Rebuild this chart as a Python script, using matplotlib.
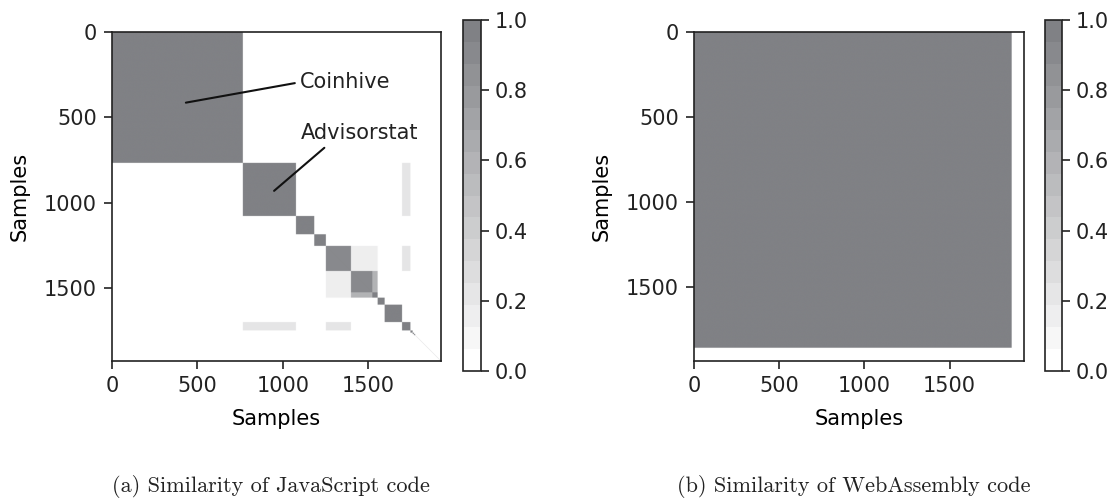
import numpy as np
import matplotlib
matplotlib.use('Agg')
import matplotlib.pyplot as plt
from matplotlib.colors import LinearSegmentedColormap, ListedColormap

# data
js_size = 1926
# diagonal blocks: (start, end, similarity)
js_blocks = [(0, 766, 1.0), (766, 1077, 1.0), (1077, 1184, 1.0), (1184, 1252, 1.0),
             (1252, 1399, 0.92), (1399, 1555, 0.6), (1399, 1524, 0.92), (1524, 1555, 0.95),
             (1555, 1596, 1.0), (1596, 1698, 1.0), (1698, 1747, 1.0),
             (1747, 1760, 1.0), (1760, 1768, 1.0), (1768, 1775, 1.0)]
# off-diagonal patches: (row start, row end, col start, col end, similarity)
js_patches = [(1184, 1252, 1184, 1399, 0.04),
              (1184, 1399, 1399, 1530, 0.05),
              (1252, 1399, 1399, 1596, 0.13),
              (766, 1077, 1698, 1747, 0.2),
              (1252, 1399, 1698, 1747, 0.22),
              (1555, 1596, 1184, 1399, 0.04),
              (1800, 1926, 1800, 1926, 0.05)]

wasm_size = 1938
wasm_valid = 1860
wasm_value = 1.0

tick_values = [0, 500, 1000, 1500]
cbar_ticks = [0.0, 0.2, 0.4, 0.6, 0.8, 1.0]
captions = ['(a) Similarity of JavaScript code', '(b) Similarity of WebAssembly code']

# build matrices
js = np.zeros((js_size, js_size))
for r0, r1, c0, c1, v in js_patches:
    js[r0:r1, c0:c1] = v
    js[c0:c1, r0:r1] = v
for s, e, v in js_blocks:
    js[s:e, s:e] = v
np.fill_diagonal(js, 1.0)

wasm = np.zeros((wasm_size, wasm_size))
wasm[:wasm_valid, :wasm_valid] = wasm_value

base = LinearSegmentedColormap.from_list('g', ['#ffffff', '#808185'])
cmap = ListedColormap(base(np.linspace(0, 1, 16)))

plt.rcParams['font.family'] = 'DejaVu Sans'
plt.rcParams['font.size'] = 15
plt.rcParams['text.color'] = '#222222'
plt.rcParams['xtick.color'] = '#222222'
plt.rcParams['ytick.color'] = '#222222'

fig = plt.figure(figsize=(11.15, 5), dpi=100)
W, H = 1115, 500


def px_axes(x0, y0, x1, y1):
    return fig.add_axes([x0 / W, (H - y1) / H, (x1 - x0) / W, (y1 - y0) / H])


panels = [(js, (112, 32, 441, 361), (463, 20, 481, 371)),
          (wasm, (694, 32, 1024, 361), (1045, 20, 1062, 371))]

axes = []
for (mat, apos, cpos), cap in zip(panels, captions):
    ax = px_axes(*apos)
    im = ax.imshow(mat, cmap=cmap, vmin=0, vmax=1, aspect='auto', interpolation='antialiased')
    ax.set_xticks(tick_values)
    ax.set_yticks(tick_values)
    ax.set_xlabel('Samples', labelpad=9)
    ax.set_ylabel('Samples', labelpad=10)
    ax.tick_params(length=6, width=1.2, pad=5)
    for sp in ax.spines.values():
        sp.set_linewidth(1.2)
        sp.set_color('#222222')
    cax = px_axes(*cpos)
    cb = fig.colorbar(im, cax=cax)
    cb.set_ticks(cbar_ticks)
    cb.ax.tick_params(length=6, width=1.2, pad=4)
    cb.outline.set_linewidth(1.2)
    cb.outline.set_edgecolor('#222222')
    cx = (apos[0] + apos[2]) / 2 / W
    fig.text(cx - 0.005, 0.026, cap, ha='center', va='center',
             fontsize=16, family='cmr10', color='#222222')
    axes.append(ax)

ax = axes[0]
ax.annotate('Coinhive', xy=(416, 416), xytext=(1102, 293), ha='left', va='center',
            arrowprops=dict(arrowstyle='-', color='#111111', lw=1.5, relpos=(0, 0.5)))
ax.annotate('Advisorstat', xy=(936, 940), xytext=(1102, 592), ha='left', va='center',
            arrowprops=dict(arrowstyle='-', color='#111111', lw=1.5, relpos=(0.25, 0)))

fig.savefig('out.png', dpi=100)
